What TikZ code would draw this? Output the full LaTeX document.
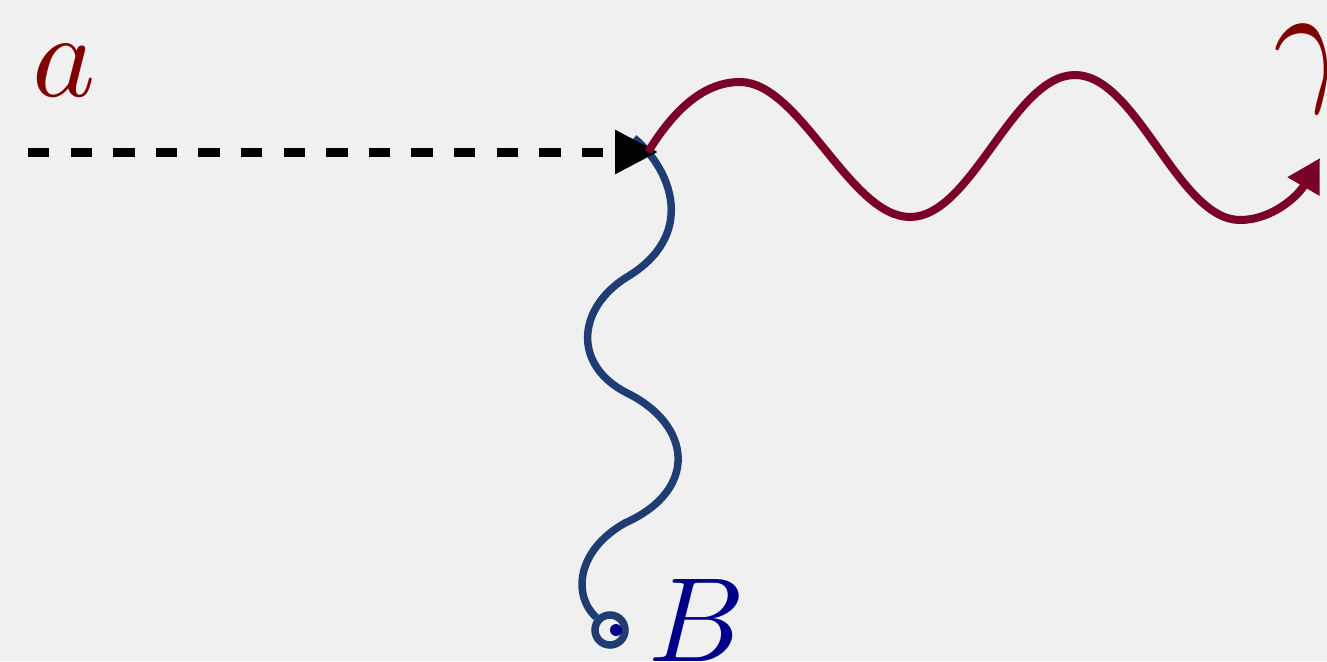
\documentclass[tikz,border=0pt]{standalone}
\usetikzlibrary{arrows.meta}
\definecolor{bg}{RGB}{240,240,240}
\definecolor{wavered}{RGB}{122,0,40}
\definecolor{labelred}{RGB}{128,0,0}
\definecolor{waveblue}{RGB}{31,61,115}
\definecolor{labelblue}{RGB}{0,0,139}
\begin{document}
\begin{tikzpicture}[x=1pt,y=-1pt,
  bigtext/.style={inner sep=0pt, anchor=base west, scale=12},
  bluewave/.style={draw=waveblue, line width=7.5pt},
  redwave/.style={draw=wavered, line width=8pt, -{Triangle[length=33pt,width=35pt]}},
  dashline/.style={line width=9pt, dash pattern=on 21.3pt off 21.3pt, -{Triangle[length=43pt,width=42pt]}}]
\fill[bg] (0,0) rectangle (1327,661);
\useasboundingbox (0,0) rectangle (1327,661);
% labels
\node[bigtext, text=labelred] (la) at (30,96) {$a$};
\node[bigtext, text=labelred, scale=14/12] (lg) at (1271,85) {$\gamma$};
\node[bigtext, text=labelblue] (lb) at (646,661) {$B$};
% points
\coordinate (s) at (28,152);
\coordinate (v) at (658,152);
\coordinate (r0) at (648,152);
\coordinate (b0) at (634,138);
\coordinate (rend) at (1320,158);
\node[circle, draw=waveblue, line width=7.5pt, minimum size=30pt, inner sep=0pt] (c) at (610,630) {};
\node[circle, fill=labelblue, minimum size=12pt, inner sep=0pt] (d) at (616,630) {};
% blue wave
\draw[bluewave] (b0) .. controls (672,170) and (697,235) .. (627,277)
  .. controls (577,308) and (572,365) .. (627,393)
  .. controls (692,425) and (699,490) .. (625,523)
  .. controls (577,550) and (572,595) .. (c);
% dashed arrow
\draw[dashline] (s) -- (v);
% red wave
\draw[redwave] (r0) .. controls (675,108) and (705,82) .. (740,82)
  .. controls (800,82) and (850,217) .. (910,217)
  .. controls (972,217) and (1013,75) .. (1075,75)
  .. controls (1137,75) and (1178,220) .. (1240,220)
  .. controls (1272,220) and (1298,196) .. (rend);
\end{tikzpicture}
\end{document}
